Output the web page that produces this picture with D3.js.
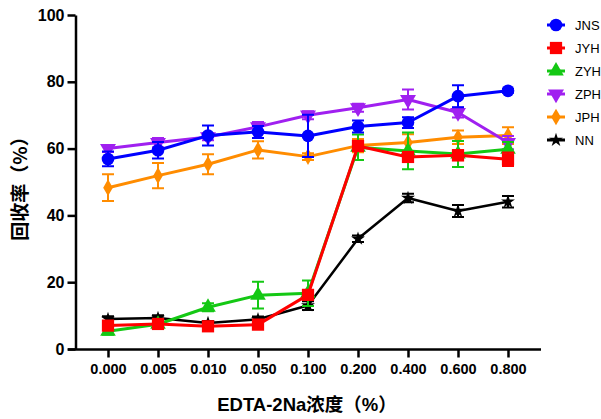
<!DOCTYPE html>
<html>
<head>
<meta charset="utf-8">
<script src="https://cdn.jsdelivr.net/npm/d3@7"></script>
<style>
  html, body { margin: 0; padding: 0; background: #fff; }
  svg { display: block; }
</style>
</head>
<body>
<svg id="chart" width="601" height="419"></svg>
<script>
// EDTA-2Na concentration levels (%)
const categories = ["0.000", "0.005", "0.010", "0.050", "0.100", "0.200", "0.400", "0.600", "0.800"];
const yTicks = [0, 20, 40, 60, 80, 100];

// Recovery (%) means and error values per series
const seriesNames = ["JNS", "JYH", "ZYH", "ZPH", "JPH", "NN"];
const jnsValues = [56.9, 59.5, 63.9, 65.0, 63.8, 66.6, 67.8, 75.7, 77.3];
const jnsErrors = [2.2, 2.5, 3.0, 1.8, 6.3, 1.8, 1.6, 3.3, 0.6];
const jyhValues = [7.0, 7.5, 6.8, 7.3, 16.2, 60.8, 57.5, 58.0, 56.8];
const jyhErrors = [1.2, 0.8, 0.8, 0.8, 1.5, 1.5, 1.5, 1.5, 2.0];
const zyhValues = [5.3, 7.4, 12.5, 16.1, 16.7, 60.4, 59.3, 58.4, 59.8];
const zyhErrors = [1.0, 0.8, 1.2, 4.0, 3.8, 3.8, 5.5, 3.9, 2.2];
const zphValues = [60.0, 61.8, 63.5, 66.5, 70.0, 72.2, 74.7, 70.8, 61.8];
const zphErrors = [1.0, 1.4, 1.0, 1.5, 1.2, 1.2, 3.0, 1.5, 2.0];
const jphValues = [48.3, 51.9, 55.3, 59.6, 57.6, 60.9, 61.8, 63.4, 63.9];
const jphErrors = [4.0, 3.8, 3.0, 2.6, 1.0, 2.0, 2.5, 2.0, 2.5];
const nnValues = [9.0, 9.3, 7.8, 8.9, 13.0, 33.0, 45.2, 41.3, 44.1];
const nnErrors = [0.8, 0.8, 0.6, 0.8, 1.3, 1.0, 1.3, 1.8, 1.7];

const seriesColors = ["#0000ff", "#ff0000", "#14c814", "#a020f0", "#ff8c00", "#000000"];

const triangleDown = {
  draw(ctx, size) {
    const h = Math.sqrt(size / (Math.sqrt(3) / 4));
    const r = h / Math.sqrt(3);
    ctx.moveTo(0, r);
    ctx.lineTo(h / 2, -r / 2);
    ctx.lineTo(-h / 2, -r / 2);
    ctx.closePath();
  }
};
const seriesSymbols = [
  d3.symbol(d3.symbolCircle, 125),
  d3.symbol(d3.symbolSquare, 150),
  d3.symbol(d3.symbolTriangle, 105),
  d3.symbol(triangleDown, 110),
  d3.symbol(d3.symbolDiamond, 80),
  d3.symbol(d3.symbolStar, 60)
];

const series = [
  { values: jnsValues, errors: jnsErrors },
  { values: jyhValues, errors: jyhErrors },
  { values: zyhValues, errors: zyhErrors },
  { values: zphValues, errors: zphErrors },
  { values: jphValues, errors: jphErrors },
  { values: nnValues, errors: nnErrors }
].map((s, i) => ({ ...s, name: seriesNames[i], color: seriesColors[i], symbol: seriesSymbols[i] }));

const svg = d3.select("#chart");
const font = "Liberation Sans, Arial, sans-serif";

const x = d3.scalePoint().domain(categories).range([108, 508]);
const y = d3.scaleLinear().domain([0, 100]).range([349, 15]);

// Axes
const yAxis = svg.append("g")
  .attr("transform", "translate(75.5,0)")
  .call(d3.axisLeft(y).tickValues(yTicks).tickSize(8).tickSizeOuter(0).tickPadding(3));
yAxis.select(".domain").attr("stroke-width", 2.5);
yAxis.selectAll(".tick line").attr("stroke-width", 2.5);
yAxis.selectAll(".tick text")
  .attr("font-family", font).attr("font-size", 16).attr("font-weight", "bold").attr("fill", "#000");

const xAxis = svg.append("g")
  .attr("transform", "translate(0,349.5)")
  .call(d3.axisBottom(x).tickSize(8).tickSizeOuter(0).tickPadding(6));
xAxis.select(".domain").attr("d", "M68,0H541").attr("stroke-width", 2.5);
xAxis.selectAll(".tick line").attr("stroke-width", 2.5);
xAxis.selectAll(".tick text")
  .attr("font-family", font).attr("font-size", 14.5).attr("font-weight", "bold").attr("fill", "#000");

// Axis titles
svg.append("text")
  .attr("x", 307).attr("y", 411)
  .attr("text-anchor", "middle")
  .attr("font-family", "Liberation Sans, 'Noto Sans CJK SC', sans-serif")
  .attr("font-size", 18.5).attr("font-weight", "bold")
  .text("EDTA-2Na浓度（%）");

svg.append("text")
  .attr("transform", "translate(27,184) rotate(-90)")
  .attr("text-anchor", "middle")
  .attr("font-family", "'Noto Sans CJK SC', sans-serif")
  .attr("font-size", 19).attr("font-weight", "bold")
  .text("回收率（%）");

// Series, drawn so that JNS ends on top
const line = d3.line().x((d, i) => x(categories[i])).y(d => y(d));
const plot = svg.append("g");
series.slice().reverse().forEach(s => {
  const g = plot.append("g");
  const capW = 6;
  s.values.forEach((v, i) => {
    const cx = x(categories[i]);
    const e = s.errors[i];
    const y1 = y(v + e), y2 = y(v - e);
    g.append("path")
      .attr("d", `M${cx},${y1}V${y2}M${cx - capW},${y1}H${cx + capW}M${cx - capW},${y2}H${cx + capW}`)
      .attr("stroke", s.color).attr("stroke-width", 2).attr("fill", "none");
  });
  g.append("path")
    .attr("d", line(s.values))
    .attr("fill", "none").attr("stroke", s.color)
    .attr("stroke-width", s.name === "NN" ? 2.5 : 3)
    .attr("stroke-linejoin", "round");
  g.selectAll(".mark").data(s.values).join("path")
    .attr("transform", (d, i) => `translate(${x(categories[i])},${y(d)})`)
    .attr("d", s.symbol())
    .attr("fill", s.color);
});

// Legend
const legend = svg.append("g");
series.forEach((s, i) => {
  const ly = 25 + i * 23;
  legend.append("line")
    .attr("x1", 547).attr("x2", 565).attr("y1", ly).attr("y2", ly)
    .attr("stroke", s.color).attr("stroke-width", 3);
  legend.append("path")
    .attr("transform", `translate(556,${ly})`)
    .attr("d", s.symbol())
    .attr("fill", s.color);
  legend.append("text")
    .attr("x", 575).attr("y", ly + 4.5)
    .attr("font-family", font).attr("font-size", 13)
    .text(s.name);
});
</script>
</body>
</html>
